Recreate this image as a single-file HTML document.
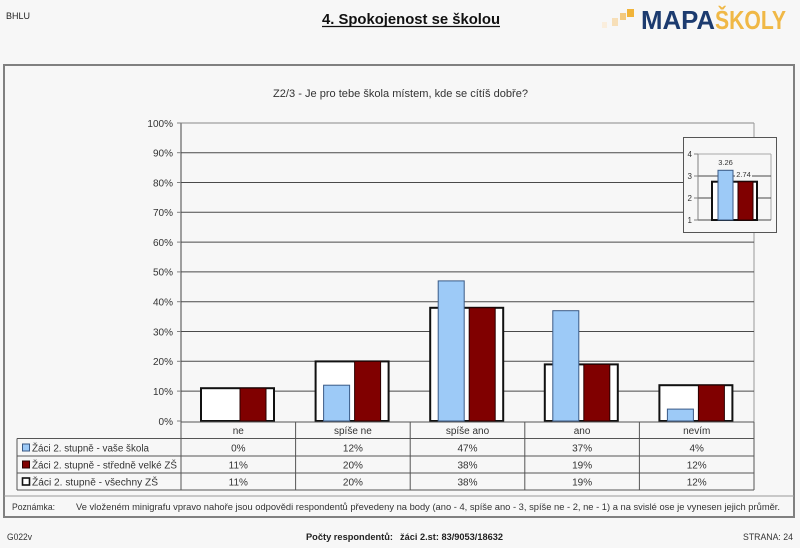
<!DOCTYPE html>
<html>
<head>
<meta charset="utf-8">
<style>
html,body{margin:0;padding:0;background:#f7f7f7;}
svg{display:block;}
text{font-family:"Liberation Sans","DejaVu Sans",sans-serif;}
</style>
</head>
<body>
<svg width="800" height="548" viewBox="0 0 800 548" xmlns="http://www.w3.org/2000/svg" fill="#222">
<rect x="0" y="0" width="800" height="548" fill="#f7f7f7"/>

<!-- Header -->
<text x="6" y="19" font-size="9" textLength="24" lengthAdjust="spacingAndGlyphs" fill="#222">BHLU</text>
<text x="322" y="24" font-size="15" font-weight="bold" textLength="178" lengthAdjust="spacingAndGlyphs" fill="#111">4. Spokojenost se školou</text>
<line x1="322" y1="26.5" x2="500" y2="26.5" stroke="#111" stroke-width="1.2"/>

<!-- Logo -->
<rect x="602" y="22" width="5" height="6" fill="#faeedd"/>
<rect x="612" y="18" width="6" height="8" fill="#f7dfb8"/>
<rect x="620" y="13" width="6" height="7" fill="#f3c97e"/>
<rect x="627" y="9" width="7" height="8" fill="#f1b43a"/>
<text x="641" y="29" font-size="26" font-weight="bold" textLength="74" lengthAdjust="spacingAndGlyphs" style="fill:#1c3b6f">MAPA</text>
<text x="715" y="29" font-size="26" font-weight="bold" textLength="71" lengthAdjust="spacingAndGlyphs" style="fill:#f0b846">ŠKOLY</text>

<!-- Frame -->
<rect x="4" y="65" width="790" height="452" fill="#f7f7f7" stroke="#808080" stroke-width="2"/>

<!-- Chart title -->
<text x="273" y="97" font-size="11" textLength="255" lengthAdjust="spacingAndGlyphs" fill="#333">Z2/3 - Je pro tebe škola místem, kde se cítíš dobře?</text>

<!-- Plot area borders -->
<line x1="181" y1="123" x2="754" y2="123" stroke="#8a8a8a" stroke-width="1"/>
<line x1="754" y1="123" x2="754" y2="422" stroke="#9a9a9a" stroke-width="1"/>
<line x1="181" y1="123" x2="181" y2="422" stroke="#808080" stroke-width="1.5"/>

<!-- Gridlines -->
<g stroke="#4a4a4a" stroke-width="1">
<line x1="181" y1="152.7" x2="754" y2="152.7"/>
<line x1="181" y1="182.5" x2="754" y2="182.5"/>
<line x1="181" y1="212.3" x2="754" y2="212.3"/>
<line x1="181" y1="242.1" x2="754" y2="242.1"/>
<line x1="181" y1="271.9" x2="754" y2="271.9"/>
<line x1="181" y1="301.7" x2="754" y2="301.7"/>
<line x1="181" y1="331.5" x2="754" y2="331.5"/>
<line x1="181" y1="361.3" x2="754" y2="361.3"/>
<line x1="181" y1="391.1" x2="754" y2="391.1"/>
</g>
<!-- ticks -->
<g stroke="#808080" stroke-width="1">
<line x1="177" y1="123" x2="181" y2="123"/>
<line x1="177" y1="152.7" x2="181" y2="152.7"/>
<line x1="177" y1="182.5" x2="181" y2="182.5"/>
<line x1="177" y1="212.3" x2="181" y2="212.3"/>
<line x1="177" y1="242.1" x2="181" y2="242.1"/>
<line x1="177" y1="271.9" x2="181" y2="271.9"/>
<line x1="177" y1="301.7" x2="181" y2="301.7"/>
<line x1="177" y1="331.5" x2="181" y2="331.5"/>
<line x1="177" y1="361.3" x2="181" y2="361.3"/>
<line x1="177" y1="391.1" x2="181" y2="391.1"/>
<line x1="177" y1="421" x2="181" y2="421"/>
</g>
<!-- y labels -->
<g font-size="10" text-anchor="end" fill="#333">
<text x="173" y="127">100%</text>
<text x="173" y="156.5">90%</text>
<text x="173" y="186.3">80%</text>
<text x="173" y="216.1">70%</text>
<text x="173" y="245.9">60%</text>
<text x="173" y="275.7">50%</text>
<text x="173" y="305.5">40%</text>
<text x="173" y="335.3">30%</text>
<text x="173" y="365.1">20%</text>
<text x="173" y="394.9">10%</text>
<text x="173" y="424.8">0%</text>
</g>

<!-- White boxes (všechny ZŠ) -->
<g fill="#ffffff" stroke="#111" stroke-width="2">
<rect x="201" y="388.2" width="73" height="32.8"/>
<rect x="315.6" y="361.4" width="73" height="59.6"/>
<rect x="430.2" y="307.8" width="73" height="113.2"/>
<rect x="544.8" y="364.4" width="73" height="56.6"/>
<rect x="659.4" y="385.2" width="73" height="35.8"/>
</g>
<!-- Blue bars -->
<g fill="#9dcaf7" stroke="#3a5a86" stroke-width="1">
<rect x="323.6" y="385.2" width="26" height="35.8"/>
<rect x="438.2" y="280.9" width="26" height="140.1"/>
<rect x="552.8" y="310.7" width="26" height="110.3"/>
<rect x="667.4" y="409.1" width="26" height="11.9"/>
</g>
<!-- Red bars -->
<g fill="#800000" stroke="#2a0000" stroke-width="1">
<rect x="240" y="388.2" width="26" height="32.8"/>
<rect x="354.6" y="361.4" width="26" height="59.6"/>
<rect x="469.2" y="307.8" width="26" height="113.2"/>
<rect x="583.8" y="364.4" width="26" height="56.6"/>
<rect x="698.4" y="385.2" width="26" height="35.8"/>
</g>

<!-- Table -->
<g stroke="#555" stroke-width="1" fill="none">
<line x1="181" y1="422" x2="754" y2="422"/>
<line x1="17" y1="438.5" x2="754" y2="438.5"/>
<line x1="17" y1="456" x2="754" y2="456"/>
<line x1="17" y1="473" x2="754" y2="473"/>
<line x1="17" y1="490" x2="754" y2="490"/>
<line x1="17" y1="438.5" x2="17" y2="490"/>
<line x1="181" y1="422" x2="181" y2="490"/>
<line x1="295.6" y1="422" x2="295.6" y2="490"/>
<line x1="410.2" y1="422" x2="410.2" y2="490"/>
<line x1="524.8" y1="422" x2="524.8" y2="490"/>
<line x1="639.4" y1="422" x2="639.4" y2="490"/>
<line x1="754" y1="422" x2="754" y2="490"/>
</g>
<g font-size="10" text-anchor="middle" fill="#333">
<text x="238.3" y="434">ne</text>
<text x="352.9" y="434">spíše ne</text>
<text x="467.5" y="434">spíše ano</text>
<text x="582.1" y="434">ano</text>
<text x="696.7" y="434">nevím</text>

<text x="238.3" y="451.5">0%</text>
<text x="352.9" y="451.5">12%</text>
<text x="467.5" y="451.5">47%</text>
<text x="582.1" y="451.5">37%</text>
<text x="696.7" y="451.5">4%</text>

<text x="238.3" y="468.5">11%</text>
<text x="352.9" y="468.5">20%</text>
<text x="467.5" y="468.5">38%</text>
<text x="582.1" y="468.5">19%</text>
<text x="696.7" y="468.5">12%</text>

<text x="238.3" y="485.5">11%</text>
<text x="352.9" y="485.5">20%</text>
<text x="467.5" y="485.5">38%</text>
<text x="582.1" y="485.5">19%</text>
<text x="696.7" y="485.5">12%</text>
</g>
<!-- Legend -->
<rect x="22.5" y="444" width="7" height="7" fill="#9dcaf7" stroke="#3a5a86" stroke-width="1"/>
<rect x="22.5" y="461" width="7" height="7" fill="#800000" stroke="#2a0000" stroke-width="1"/>
<rect x="22.5" y="478" width="7" height="7" fill="#ffffff" stroke="#111" stroke-width="1.6"/>
<g font-size="10" fill="#333">
<text x="32" y="451.5" textLength="117" lengthAdjust="spacingAndGlyphs">Žáci 2. stupně - vaše škola</text>
<text x="32" y="468.5" textLength="145" lengthAdjust="spacingAndGlyphs">Žáci 2. stupně - středně velké ZŠ</text>
<text x="32" y="485.5" textLength="126" lengthAdjust="spacingAndGlyphs">Žáci 2. stupně - všechny ZŠ</text>
</g>

<!-- Note -->
<line x1="4" y1="496" x2="794" y2="496" stroke="#9a9a9a" stroke-width="1"/>
<text x="12" y="510" font-size="9.5" textLength="43" lengthAdjust="spacingAndGlyphs" fill="#333">Poznámka:</text>
<text x="76" y="510" font-size="9.5" textLength="704" lengthAdjust="spacingAndGlyphs" fill="#333">Ve vloženém minigrafu vpravo nahoře jsou odpovědi respondentů převedeny na body (ano - 4, spíše ano - 3, spíše ne - 2, ne - 1) a na svislé ose je vynesen jejich průměr.</text>

<!-- Inset minichart -->
<rect x="683.5" y="137.5" width="93" height="95" fill="#f7f7f7" stroke="#555" stroke-width="1"/>
<line x1="698" y1="154" x2="771" y2="154" stroke="#aaa" stroke-width="1"/>
<line x1="771" y1="154" x2="771" y2="220" stroke="#aaa" stroke-width="1"/>
<line x1="698" y1="176" x2="771" y2="176" stroke="#4a4a4a" stroke-width="1"/>
<line x1="698" y1="198" x2="771" y2="198" stroke="#4a4a4a" stroke-width="1"/>
<line x1="698" y1="220" x2="771" y2="220" stroke="#4a4a4a" stroke-width="1"/>
<line x1="698" y1="154" x2="698" y2="220" stroke="#808080" stroke-width="1"/>
<g stroke="#808080" stroke-width="1">
<line x1="694" y1="154" x2="698" y2="154"/>
<line x1="694" y1="176" x2="698" y2="176"/>
<line x1="694" y1="198" x2="698" y2="198"/>
<line x1="694" y1="220" x2="698" y2="220"/>
</g>
<g font-size="8" text-anchor="end" fill="#333">
<text x="692" y="157">4</text>
<text x="692" y="179">3</text>
<text x="692" y="201">2</text>
<text x="692" y="223">1</text>
</g>
<rect x="712" y="181.7" width="45" height="38.3" fill="#ffffff" stroke="#111" stroke-width="2"/>
<rect x="718" y="170.3" width="15" height="49.7" fill="#9dcaf7" stroke="#3a5a86" stroke-width="1"/>
<rect x="738" y="181.7" width="15" height="38.3" fill="#800000" stroke="#2a0000" stroke-width="1"/>
<text x="725.5" y="165" font-size="7.5" text-anchor="middle" fill="#333">3.26</text>
<rect x="735" y="171" width="17" height="8" fill="#f7f7f7"/>
<text x="743.5" y="177" font-size="7.5" text-anchor="middle" fill="#333">2.74</text>

<!-- Footer -->
<text x="7" y="540" font-size="9" textLength="25" lengthAdjust="spacingAndGlyphs" fill="#333">G022v</text>
<text x="306" y="540" font-size="9.5" font-weight="bold" textLength="87" lengthAdjust="spacingAndGlyphs" fill="#222">Počty respondentů:</text>
<text x="400" y="540" font-size="9.5" font-weight="bold" textLength="103" lengthAdjust="spacingAndGlyphs" fill="#222">žáci 2.st: 83/9053/18632</text>
<text x="743" y="540" font-size="9" textLength="50" lengthAdjust="spacingAndGlyphs" fill="#333">STRANA: 24</text>
</svg>
</body>
</html>
